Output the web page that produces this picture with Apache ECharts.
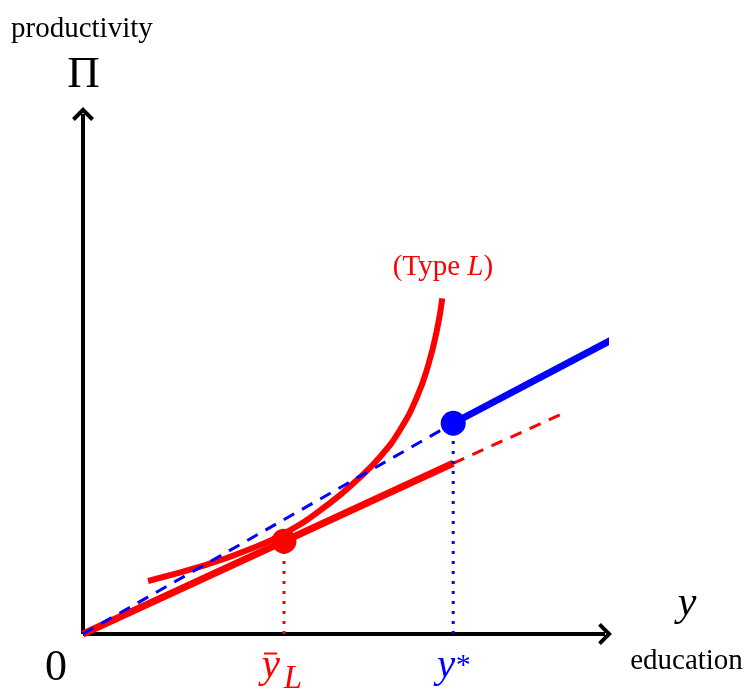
<!DOCTYPE html>
<html>
<head>
<meta charset="utf-8">
<script src="https://cdn.jsdelivr.net/npm/echarts@6/dist/echarts.min.js"></script>
<style>
  html, body { margin: 0; padding: 0; background: #fff; }
  #chart { width: 748px; height: 690px; }
</style>
</head>
<body>
<div id="chart"></div>
<script>
// Signalling diagram: education y against productivity Π.

// Productivity curve of the low type (Type L)
const typeLCurve = [
  [1.229, 1.006], [2.344, 1.319], [2.968, 1.538], [3.819, 1.917],
  [4.670, 2.487], [5.180, 2.923], [5.615, 3.360], [5.993, 3.872],
  [6.315, 4.499], [6.523, 5.087], [6.693, 5.771], [6.793, 6.372]
];

// Education levels marked on the horizontal axis
const yBarL = 3.8;   // ȳ_L
const yStar = 7.0;   // y*

// Red wage line (solid up to y*, dashed beyond)
const redSolid = [[0, 0], [yStar, 3.24]];
const redDashed = [[yStar, 3.24], [9.02, 4.16]];

// Blue wage schedule (dashed below y*, solid above)
const blueDashed = [[0, 0], [yStar, 4.0]];
const blueSolid = [[yStar, 4.0], [9.99, 5.58]];

// Marked points
const redPoint = [yBarL, 1.76];
const bluePoint = [yStar, 4.0];

// Axis extent (value units)
const xMax = 9.87;
const yMax = 9.87;

const RED = '#ff0000';
const BLUE = '#0000ff';
const SERIF = '"Liberation Serif", "DejaVu Serif", serif';

// Open chevron used as arrowhead, pointing up
const chevron = 'path://M0,11L11,0L22,11L19.17,13.83L11,5.66L2.83,13.83Z';

const chart = echarts.init(document.getElementById('chart'), null, { renderer: 'canvas' });

function axisCommon(max) {
  return {
    type: 'value',
    min: 0,
    max: max,
    splitLine: { show: false },
    axisTick: { show: false },
    axisLabel: { show: false },
    axisLine: {
      show: true,
      symbol: ['none', chevron],
      symbolSize: [22, 13.83],
      lineStyle: { color: '#000', width: 4, cap: 'butt' }
    }
  };
}

function lineSeries(data, color, width, type, z) {
  return {
    type: 'line',
    data: data,
    symbol: 'none',
    clip: false,
    silent: true,
    z: z,
    lineStyle: { color: color, width: width, type: type, cap: 'butt' }
  };
}

const option = {
  animation: false,
  backgroundColor: '#fff',
  grid: { left: 83, top: 114, width: 522, height: 520 },
  xAxis: axisCommon(xMax),
  yAxis: axisCommon(yMax),
  series: [
    Object.assign(lineSeries(typeLCurve, RED, 6, 'solid', 2), { smooth: 0.5 }),
    lineSeries(redSolid, RED, 7, 'solid', 2),
    lineSeries(redDashed, RED, 3, [12, 9], 2),
    lineSeries(blueDashed, BLUE, 3, [12, 9], 3),
    lineSeries(blueSolid, BLUE, 7, 'solid', 3),
    lineSeries([[yBarL, 0], redPoint], RED, 3, [3, 7], 3),
    lineSeries([[yStar, 0], bluePoint], BLUE, 3, [3, 7], 3),
    {
      type: 'scatter',
      silent: true,
      z: 4,
      symbolSize: 25,
      itemStyle: { opacity: 1 },
      data: [
        { value: redPoint, itemStyle: { color: RED, opacity: 1 } },
        { value: bluePoint, itemStyle: { color: BLUE, opacity: 1 } }
      ]
    }
  ]
};

chart.setOption(option);

// Text placed relative to the axis positions of ȳ_L and y*
const pL = chart.convertToPixel({ gridIndex: 0 }, [yBarL, 0]);
const pS = chart.convertToPixel({ gridIndex: 0 }, [yStar, 0]);

function txt(text, x, y, size, color, opts) {
  return {
    type: 'text',
    x: x,
    y: y,
    silent: true,
    style: {
      text: text,
      fill: color,
      font: (opts && opts.italic ? 'italic ' : '') + size + 'px ' + SERIF,
      align: (opts && opts.align) || 'center',
      verticalAlign: 'middle'
    }
  };
}

chart.setOption({
  graphic: [
    txt('productivity', 11, 29, 29, '#000', { align: 'left' }),
    txt('Π', 83.5, 75.6, 45, '#000'),
    txt('y', 687, 604, 42, '#000', { italic: true }),
    txt('education', 686.5, 661, 29, '#000'),
    txt('0', 56, 668, 44, '#000'),
    {
      type: 'text', x: 443, y: 267, silent: true,
      style: {
        text: '{n|(Type }{i|L}{n|)}',
        align: 'center', verticalAlign: 'middle',
        rich: {
          n: { font: '29px ' + SERIF, fill: RED },
          i: { font: 'italic 29px ' + SERIF, fill: RED }
        }
      }
    },
    // ȳ_L
    txt('y', pL[0] - 13, 666, 41, RED, { italic: true }),
    txt('L', pL[0] + 9, 679, 33, RED, { italic: true }),
    {
      type: 'rect', silent: true,
      shape: { x: pL[0] - 20, y: 652.5, width: 13, height: 2 },
      style: { fill: RED }
    },
    // y*
    txt('y', pS[0] - 7, 666, 41, BLUE, { italic: true }),
    txt('*', pS[0] + 10, 665.8, 30, BLUE)
  ]
});
</script>
</body>
</html>
